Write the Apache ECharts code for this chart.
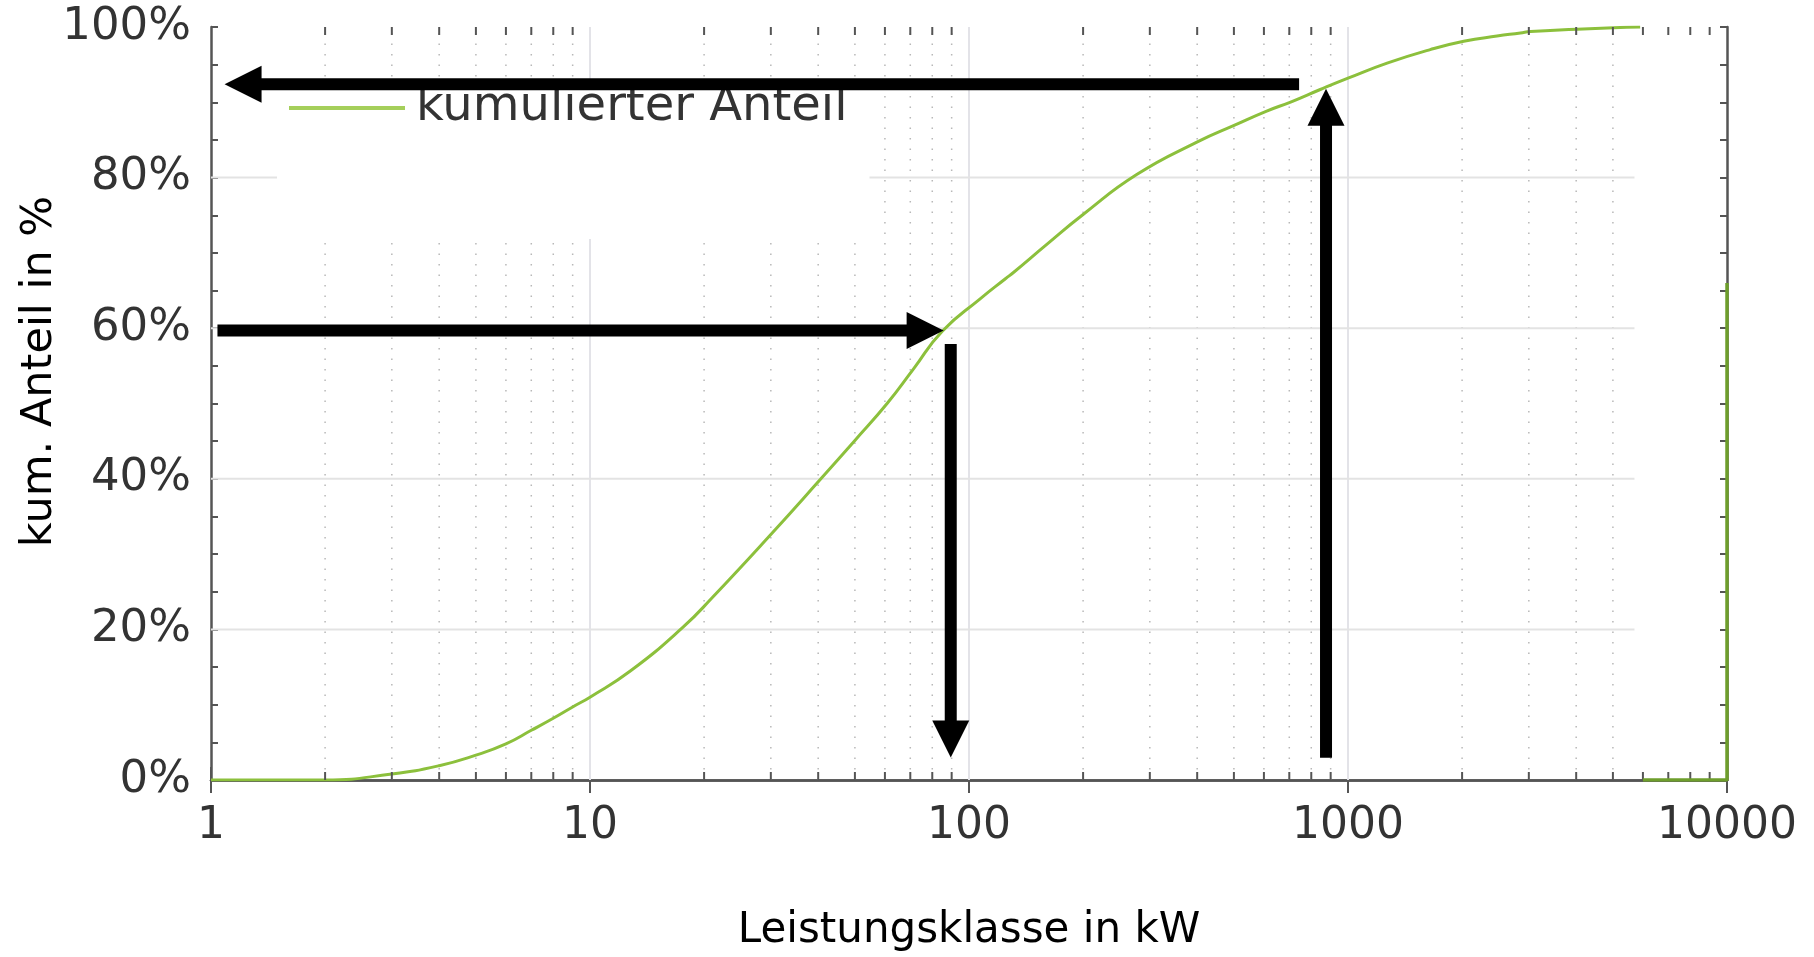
<!DOCTYPE html>
<html>
<head>
<meta charset="utf-8">
<script src="https://cdn.jsdelivr.net/npm/echarts@6/dist/echarts.min.js"></script>
<style>
html,body{margin:0;padding:0;background:#fff;}
#chart{width:1814px;height:957px;}
</style>
</head>
<body>
<div id="chart"></div>
<script>
// ---- data ----
const powerKW  = [1, 2, 3, 4, 5, 6, 7, 8, 9, 10, 12.8, 17.6, 21, 30, 40.5, 50, 60.8, 71.4, 85, 107, 125, 131, 161, 200, 277, 403, 504, 608, 711, 845, 1000, 1268, 1648, 2020, 2473, 2850, 3030, 4020, 5020, 5900];
const cumShare = [0, 0, 0.8, 1.9, 3.3, 4.8, 6.6, 8.2, 9.7, 11.0, 14.5, 20.3, 24.2, 32.6, 39.9, 45.1, 50.0, 54.6, 59.6, 63.9, 66.6, 67.4, 71.2, 75.1, 80.4, 84.8, 87.0, 88.8, 90.1, 91.7, 93.2, 95.2, 97.0, 98.1, 98.8, 99.2, 99.4, 99.7, 99.9, 100];
const tailKW    = [6000, 10000, 10000];
const tailShare = [0, 0, 66];

const seriesName  = 'kumulierter Anteil';
const xTitle      = 'Leistungsklasse in kW';
const yTitle      = 'kum. Anteil in %';
const xTickLabels = ['1', '10', '100', '1000', '10000'];
const yTickLabels = ['0%', '20%', '40%', '60%', '80%', '100%'];

// minor ticks / grid positions
const xMinorTicks  = [2,3,4,5,6,7,8,9, 20,30,40,50,60,70,80,90, 200,300,400,500,600,700,800,900, 2000,3000,4000,5000,6000,7000,8000,9000];
const xMinorGrid   = [2,3,4,5,6,7,8,9, 20,30,40,50,60,70,80,90, 200,300,400,500,600,700,800,900, 2000,3000,4000,5000];
const xMajorGrid   = [10, 100, 1000];
const yMajorGrid   = [20, 40, 60, 80];
const gridXEnd     = 5700;

// annotation arrows: [xTail, yTail, xTip, yTip]
const arrowsData = [
  [743, 92.4, 1.086, 92.4],
  [875, 2.95, 875, 91.8],
  [1.04, 59.7, 85.7, 59.7],
  [89.5, 57.9, 89.5, 3.0]
];

// ---- chart ----
const FONT = 'DejaVu Sans';
const AXIS_COLOR = '#555';
const chart = echarts.init(document.getElementById('chart'), null, {renderer: 'canvas'});

const curve = powerKW.map((x, i) => [x, cumShare[i]]);
const tail  = tailKW.map((x, i) => [x, tailShare[i]]);

function logIdx(v) { return Math.round(Math.log10(v)); }

const option = {
  animation: false,
  backgroundColor: '#fff',
  grid: {left: 211, right: 87, top: 27, bottom: 174, containLabel: false},
  legend: {
    left: 277, top: 82,
    padding: [2, 22, 107, 12],
    backgroundColor: '#fff',
    icon: 'rect',
    itemWidth: 116, itemHeight: 4,
    data: [{name: seriesName, itemStyle: {color: '#a5cf5b'}}],
    textStyle: {fontFamily: FONT, fontSize: 48, color: '#333', padding: [0, 0, 0, 6]},
    selectedMode: false
  },
  xAxis: [
    {
      type: 'log', logBase: 10, min: 1, max: 10000, position: 'bottom',
      name: xTitle, nameLocation: 'middle', nameGap: 130,
      nameTextStyle: {fontFamily: FONT, fontSize: 42, color: '#000'},
      axisLine: {show: true, lineStyle: {color: AXIS_COLOR, width: 2.5}},
      axisTick: {show: true, inside: true, length: 13, lineStyle: {color: AXIS_COLOR, width: 2}},
      axisLabel: {show: true, margin: 25, fontFamily: FONT, fontSize: 44, color: '#333',
                  formatter: v => xTickLabels[logIdx(v)]},
      splitLine: {show: false}, minorTick: {show: false}, minorSplitLine: {show: false}
    },
    {
      type: 'log', logBase: 10, min: 1, max: 10000, position: 'top',
      axisLine: {show: true, lineStyle: {color: AXIS_COLOR, width: 2.5}},
      axisTick: {show: true, inside: true, length: 13, lineStyle: {color: AXIS_COLOR, width: 2}},
      axisLabel: {show: false}, splitLine: {show: false}
    }
  ],
  yAxis: [
    {
      type: 'value', min: 0, max: 100, interval: 20, position: 'left',
      name: yTitle, nameLocation: 'middle', nameGap: 150, nameRotate: 90, nameMoveOverlap: false,
      nameTextStyle: {fontFamily: FONT, fontSize: 43, color: '#000', padding: [0, 0, 0, 64]},
      axisLine: {show: true, lineStyle: {color: AXIS_COLOR, width: 2.5}},
      axisTick: {show: true, inside: true, length: 7, lineStyle: {color: AXIS_COLOR, width: 2}},
      minorTick: {show: true, splitNumber: 4, length: 7, lineStyle: {color: AXIS_COLOR, width: 2}},
      axisLabel: {show: true, margin: 20, fontFamily: FONT, fontSize: 45, color: '#333',
                  formatter: v => yTickLabels[Math.round(v / 20)]},
      splitLine: {show: false}
    },
    {
      type: 'value', min: 0, max: 100, interval: 20, position: 'right',
      axisLine: {show: true, lineStyle: {color: AXIS_COLOR, width: 2.5}},
      axisTick: {show: true, inside: true, length: 7, lineStyle: {color: AXIS_COLOR, width: 2}},
      minorTick: {show: true, splitNumber: 4, length: 7, lineStyle: {color: AXIS_COLOR, width: 2}},
      axisLabel: {show: false}, splitLine: {show: false}
    }
  ],
  series: [
    { // minor dotted vertical grid
      type: 'custom', name: 'gridMinor', z: 1, silent: true,
      xAxisIndex: 0, yAxisIndex: 0,
      data: xMinorGrid.map(v => [v, 0]),
      encode: {x: 0, y: 1},
      renderItem: (params, api) => {
        const a = api.coord([api.value(0), 0]);
        const b = api.coord([api.value(0), 100]);
        return {type: 'line', shape: {x1: a[0], y1: a[1], x2: b[0], y2: b[1]},
                style: {stroke: '#b8b8b8', lineWidth: 1.5, lineDash: [1.5, 9]}};
      }
    },
    { // major vertical grid
      type: 'custom', name: 'gridMajorX', z: 1, silent: true,
      xAxisIndex: 0, yAxisIndex: 0,
      data: xMajorGrid.map(v => [v, 0]),
      encode: {x: 0, y: 1},
      renderItem: (params, api) => {
        const a = api.coord([api.value(0), 0]);
        const b = api.coord([api.value(0), 100]);
        return {type: 'line', shape: {x1: a[0], y1: a[1], x2: b[0], y2: b[1]},
                style: {stroke: '#e3e3e8', lineWidth: 2}};
      }
    },
    { // major horizontal grid
      type: 'custom', name: 'gridMajorY', z: 1, silent: true,
      xAxisIndex: 0, yAxisIndex: 0,
      data: yMajorGrid.map(v => [1, v]),
      encode: {x: 0, y: 1},
      renderItem: (params, api) => {
        const a = api.coord([1, api.value(1)]);
        const b = api.coord([gridXEnd, api.value(1)]);
        return {type: 'line', shape: {x1: a[0], y1: a[1], x2: b[0], y2: b[1]},
                style: {stroke: '#e3e3e3', lineWidth: 2}};
      }
    },
    { // minor x ticks (bottom & top, inward)
      type: 'custom', name: 'xMinorTicks', z: 5, silent: true,
      xAxisIndex: 0, yAxisIndex: 0,
      data: xMinorTicks.map(v => [v, 0]),
      encode: {x: 0, y: 1},
      renderItem: (params, api) => {
        const a = api.coord([api.value(0), 0]);
        const b = api.coord([api.value(0), 100]);
        const st = {stroke: AXIS_COLOR, lineWidth: 2};
        return {type: 'group', children: [
          {type: 'line', shape: {x1: a[0], y1: a[1], x2: a[0], y2: a[1] - 8}, style: st},
          {type: 'line', shape: {x1: b[0], y1: b[1], x2: b[0], y2: b[1] + 8}, style: st}
        ]};
      }
    },
    {
      type: 'line', name: seriesName, z: 3,
      xAxisIndex: 0, yAxisIndex: 0,
      data: curve, showSymbol: false, symbol: 'none', smooth: 0.5,
      lineStyle: {color: '#8cc03c', width: 3},
      itemStyle: {color: '#8cc03c'}
    },
    {
      type: 'line', name: 'tail', z: 6,
      xAxisIndex: 0, yAxisIndex: 0,
      data: tail, showSymbol: false, symbol: 'none',
      lineStyle: {color: '#6e9e2c', width: 3.5},
      itemStyle: {color: '#6e9e2c'}
    },
    { // annotation arrows
      type: 'custom', name: 'arrows', z: 10, silent: true,
      xAxisIndex: 0, yAxisIndex: 0,
      data: arrowsData,
      encode: {x: [0, 2], y: [1, 3]},
      renderItem: (params, api) => {
        const p1 = api.coord([api.value(0), api.value(1)]);
        const p2 = api.coord([api.value(2), api.value(3)]);
        const dx = p2[0] - p1[0], dy = p2[1] - p1[1];
        const len = Math.hypot(dx, dy);
        const ux = dx / len, uy = dy / len;
        const nx = -uy, ny = ux;
        const headL = 37, headW = 37, shaft = 12;
        const bx = p2[0] - ux * headL, by = p2[1] - uy * headL;
        return {type: 'group', children: [
          {type: 'line', shape: {x1: p1[0], y1: p1[1], x2: bx + ux, y2: by + uy},
           style: {stroke: '#000', lineWidth: shaft}},
          {type: 'polygon', shape: {points: [
            [p2[0], p2[1]],
            [bx + nx * headW / 2, by + ny * headW / 2],
            [bx - nx * headW / 2, by - ny * headW / 2]
          ]}, style: {fill: '#000'}}
        ]};
      }
    }
  ]
};
chart.setOption(option);
</script>
</body>
</html>
